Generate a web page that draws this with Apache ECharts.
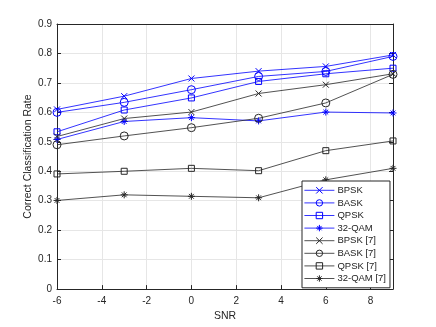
<!DOCTYPE html>
<html>
<head>
<meta charset="utf-8">
<script src="https://cdn.jsdelivr.net/npm/echarts@6/dist/echarts.min.js"></script>
<style>
  html, body { margin: 0; padding: 0; background: #fff; }
  #chart { width: 436px; height: 327px; }
</style>
</head>
<body>
<div id="chart"></div>
<script>
var snr = [-6, -3, 0, 3, 6, 9];

var bpsk = [0.61, 0.655, 0.715, 0.74, 0.756, 0.795];
var bask = [0.60, 0.634, 0.677, 0.722, 0.739, 0.79];
var qpsk = [0.534, 0.608, 0.649, 0.705, 0.731, 0.75];
var qam32 = [0.508, 0.569, 0.582, 0.571, 0.601, 0.598];
var bpskRef = [0.518, 0.579, 0.601, 0.664, 0.694, 0.731];
var baskRef = [0.49, 0.52, 0.548, 0.58, 0.632, 0.729];
var qpskRef = [0.391, 0.40, 0.41, 0.402, 0.47, 0.503];
var qamRef = [0.301, 0.32, 0.315, 0.31, 0.371, 0.41];

var names = ["BPSK", "BASK", "QPSK", "32-QAM", "BPSK [7]", "BASK [7]", "QPSK [7]", "32-QAM [7]"];

// marker outlines (MATLAB style x, o, square, *)
var xPath = "path://M0,0L10,10M10,0L0,10";
var starPath = "path://M5,0L5,10M0,5L10,5M1.6,1.6L8.4,8.4M8.4,1.6L1.6,8.4";

var BLUE = "#0000ff";
var DARK = "#262626";

function pairs(vals) {
  return snr.map(function (x, i) { return [x, vals[i]]; });
}

function makeSeries(name, vals, color, symbol, size) {
  return {
    name: name,
    type: "line",
    data: pairs(vals),
    symbol: symbol,
    symbolSize: size,
    showAllSymbol: true,
    lineStyle: { color: color, width: 0.8 },
    itemStyle: { color: "rgba(0,0,0,0)", borderColor: color, borderWidth: 1 },
    emphasis: { disabled: true },
    animation: false
  };
}

var option = {
  backgroundColor: "#fff",
  textStyle: { fontFamily: "Liberation Sans, Arial, sans-serif" },
  grid: { left: 57, right: 43, top: 24, bottom: 36 },
  legend: {
    data: names,
    orient: "vertical",
    left: 302,
    top: 181,
    itemWidth: 30,
    itemHeight: 8,
    itemGap: 0,
    padding: [3, 4, 3, 2],
    borderColor: DARK,
    borderWidth: 1,
    backgroundColor: "#fff",
    borderRadius: 0,
    lineStyle: { width: 0.8 },
    itemStyle: { borderWidth: 1 },
    textStyle: { fontSize: 9.5, lineHeight: 12.6, color: "#222", padding: [0, 0, 0, -2] }
  },
  xAxis: [
    {
      type: "value",
      min: -6,
      max: 9,
      interval: 2,
      name: "SNR",
      nameLocation: "middle",
      nameGap: 21,
      nameTextStyle: { fontSize: 10.5, color: DARK },
      axisLine: { onZero: false, lineStyle: { color: DARK, width: 1 } },
      axisTick: { inside: true, length: 4, lineStyle: { color: DARK } },
      axisLabel: { fontSize: 10, color: DARK, margin: 7, showMaxLabel: false },
      splitLine: { show: true, lineStyle: { color: "#e6e6e6", width: 1 } }
    },
    {
      type: "value",
      position: "top",
      min: -6,
      max: 9,
      interval: 2,
      axisLine: { show: true, onZero: false, lineStyle: { color: DARK, width: 1 } },
      axisTick: { show: false },
      axisLabel: { show: false },
      splitLine: { show: false }
    }
  ],
  yAxis: [
    {
      type: "value",
      min: 0,
      max: 0.9,
      interval: 0.1,
      name: "Correct Classification Rate",
      nameLocation: "middle",
      nameGap: 23,
      nameMoveOverlap: false,
      nameTextStyle: { fontSize: 10.5, color: DARK },
      axisLine: { show: true, onZero: false, lineStyle: { color: DARK, width: 1 } },
      axisTick: { show: true, inside: true, length: 4, lineStyle: { color: DARK } },
      axisLabel: { fontSize: 10, color: DARK, margin: 5,
        formatter: function (v) { return Math.round(v * 10) / 10 + ""; } },
      splitLine: { show: true, lineStyle: { color: "#e6e6e6", width: 1 } }
    },
    {
      type: "value",
      position: "right",
      min: 0,
      max: 0.9,
      interval: 0.1,
      axisLine: { show: true, onZero: false, lineStyle: { color: DARK, width: 1 } },
      axisTick: { show: true, inside: true, length: 4, lineStyle: { color: DARK } },
      axisLabel: { show: false },
      splitLine: { show: false }
    }
  ],
  series: [
    makeSeries(names[0], bpsk, BLUE, xPath, 6),
    makeSeries(names[1], bask, BLUE, "circle", 8),
    makeSeries(names[2], qpsk, BLUE, "rect", 6),
    makeSeries(names[3], qam32, BLUE, starPath, 7),
    makeSeries(names[4], bpskRef, DARK, xPath, 6),
    makeSeries(names[5], baskRef, DARK, "circle", 8),
    makeSeries(names[6], qpskRef, DARK, "rect", 6),
    makeSeries(names[7], qamRef, DARK, starPath, 7)
  ]
};

var myChart = echarts.init(document.getElementById("chart"));
myChart.setOption(option);
</script>
</body>
</html>
